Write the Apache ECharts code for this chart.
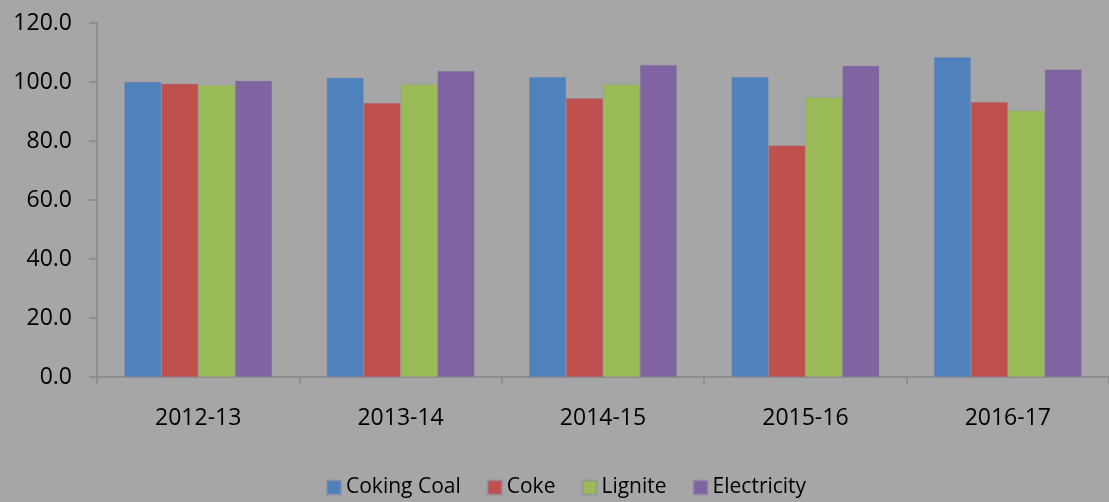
<!DOCTYPE html>
<html>
<head>
<meta charset="utf-8">
<script src="https://cdn.jsdelivr.net/npm/echarts@6/dist/echarts.min.js"></script>
<style>
  html, body { margin: 0; padding: 0; background: #a6a6a6; }
  #chart { width: 1109px; height: 502px; }
</style>
</head>
<body>
<div id="chart"></div>
<script>
// Fiscal years on the category axis
const years = ['2012-13', '2013-14', '2014-15', '2015-16', '2016-17'];

// Index values per fuel
const cokingCoal  = [100.0, 101.4, 101.7, 101.7, 108.4];
const coke        = [99.4, 92.9, 94.5, 78.5, 93.2];
const lignite     = [99.0, 99.2, 99.2, 94.8, 90.3];
const electricity = [100.4, 103.7, 105.8, 105.5, 104.2];

const seriesDefs = [
  { name: 'Coking Coal', data: cokingCoal,  color: '#4f81bd' },
  { name: 'Coke',        data: coke,        color: '#c0504d' },
  { name: 'Lignite',     data: lignite,     color: '#9bbb59' },
  { name: 'Electricity', data: electricity, color: '#8064a2' }
];

const fontFamily = '"Open Sans", "Noto Sans", sans-serif';
const axisGray = '#868686';

const chart = echarts.init(document.getElementById('chart'));
chart.setOption({
  backgroundColor: '#a6a6a6',
  animation: false,
  textStyle: { fontFamily: fontFamily, color: '#000' },
  grid: { left: 97, right: -4, top: 23, bottom: 125 },
  legend: {
    left: 321,
    top: 472,
    itemWidth: 14,
    itemHeight: 14,
    itemGap: 26,
    icon: 'rect',
    textStyle: { fontFamily: fontFamily, fontSize: 21, color: '#000' },
    data: seriesDefs.map(s => s.name)
  },
  xAxis: {
    type: 'category',
    data: years,
    axisLine: { lineStyle: { color: axisGray, width: 1.5 } },
    axisTick: { show: true, alignWithLabel: false, length: 7, lineStyle: { color: axisGray, width: 1.5 } },
    axisLabel: { fontSize: 23, color: '#000', margin: 30, fontFamily: fontFamily }
  },
  yAxis: {
    type: 'value',
    min: 0,
    max: 120,
    interval: 20,
    axisLine: { show: true, lineStyle: { color: axisGray, width: 1.5 } },
    axisTick: { show: true, length: 8, lineStyle: { color: axisGray, width: 1.5 } },
    splitLine: { show: false },
    axisLabel: {
      fontSize: 23,
      color: '#000',
      margin: 25,
      fontFamily: fontFamily,
      formatter: v => v.toFixed(1)
    }
  },
  series: seriesDefs.map(s => ({
    name: s.name,
    type: 'bar',
    data: s.data,
    barGap: '0%',
    barCategoryGap: '27%',
    itemStyle: { color: s.color, borderColor: 'rgba(140,140,160,0.6)', borderWidth: 0.5 }
  }))
});
</script>
</body>
</html>
